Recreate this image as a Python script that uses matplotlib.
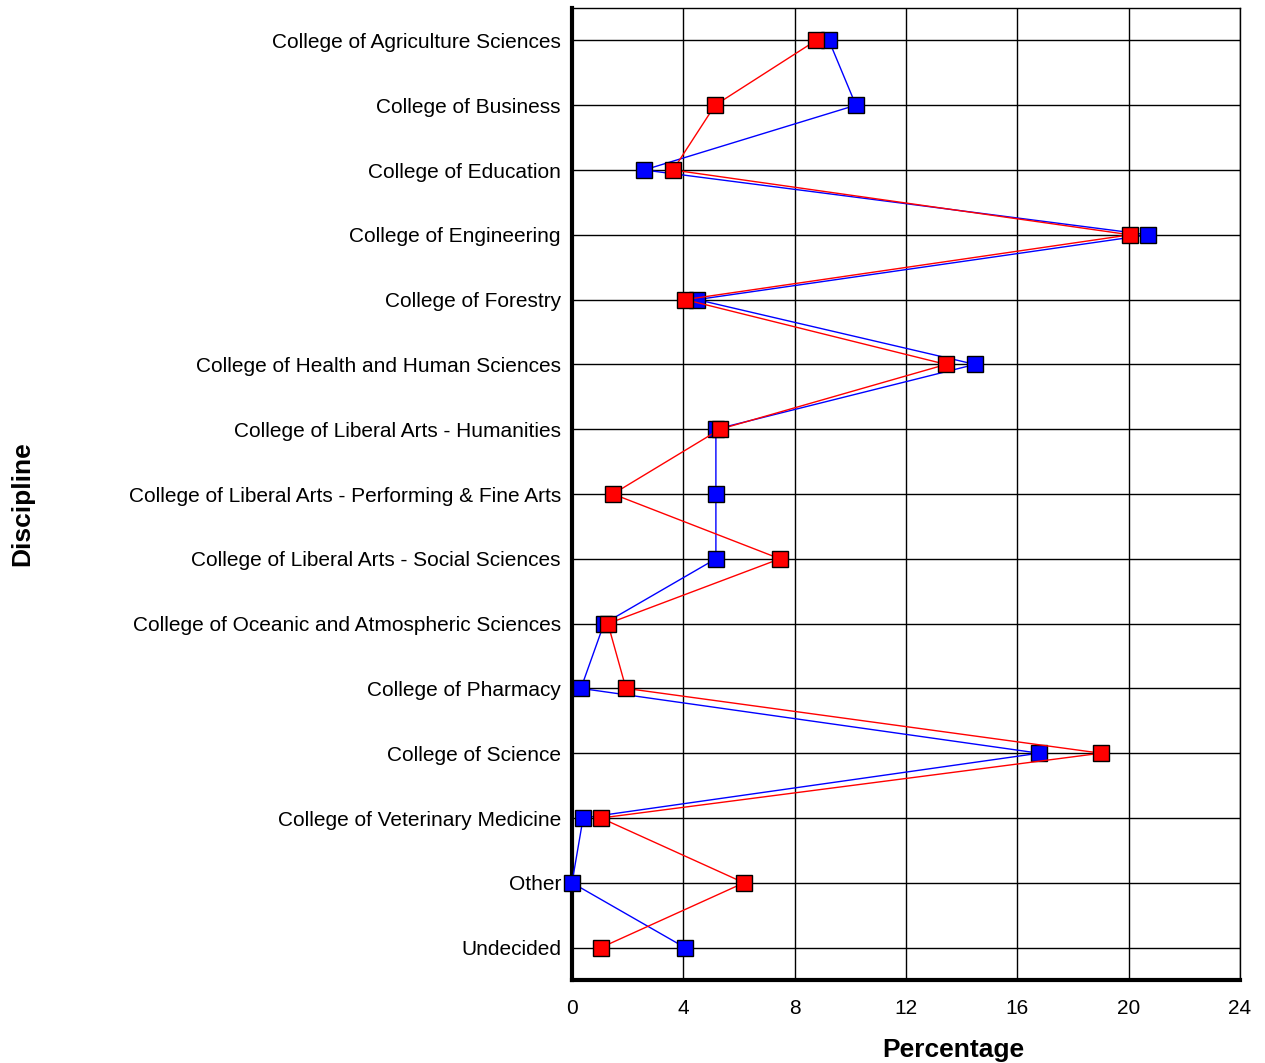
import matplotlib.pyplot as plt
import numpy

plt.rcParams['font.family'] = ['Liberation Sans', 'DejaVu Sans']

disciplines = ["College of Agriculture Sciences", "College of Business",
               "College of Education", "College of Engineering",
               "College of Forestry", "College of Health and Human Sciences",
               "College of Liberal Arts - Humanities",
               "College of Liberal Arts - Performing & Fine Arts",
               "College of Liberal Arts - Social Sciences",
               "College of Oceanic and Atmospheric Sciences",
               "College of Pharmacy", "College of Science",
               "College of Veterinary Medicine", "Other", "Undecided"]

# series bleue
bleu = [9.23, 10.2, 2.59, 20.7, 4.49, 14.48, 5.17, 5.17, 5.17, 1.15, 0.32, 16.78, 0.4, 0.0, 4.06]
# series rouge
rouge = [8.77, 5.14, 3.63, 20.05, 4.06, 13.44, 5.32, 1.47, 7.47, 1.29, 1.94, 19.0, 1.04, 6.18, 1.04]

x_ticks = [0, 4, 8, 12, 16, 20, 24]

fig = plt.figure(figsize=(12.65, 10.63), dpi=100)
ax = fig.add_axes([572/1265, 1-980/1063, 668/1265, 972/1063])

pos = numpy.arange(len(disciplines))
ax.plot(bleu, pos, color='#0000ff', lw=1, marker='s', markersize=11.5,
        markerfacecolor='#0000ff', markeredgecolor='black', markeredgewidth=1, zorder=3, clip_on=False)
ax.plot(rouge, pos, color='#ff0000', lw=1, marker='s', markersize=11.5,
        markerfacecolor='#ff0000', markeredgecolor='black', markeredgewidth=1, zorder=4, clip_on=False)

ax.set_xlim(0, 24)
ax.set_ylim(len(disciplines)-0.5, -0.5)
ax.set_xticks(x_ticks)
ax.set_xticklabels([str(t) for t in x_ticks], fontsize=15)
ax.set_yticks(pos)
ax.set_yticklabels(disciplines, fontsize=15)
ax.tick_params(axis='x', length=0, pad=14)
ax.tick_params(axis='y', length=0, pad=8)
ax.grid(True, color='black', lw=1)
ax.set_axisbelow(True)

for s in ['top', 'right']:
    ax.spines[s].set_linewidth(1)
for s in ['left', 'bottom']:
    ax.spines[s].set_linewidth(3)

ax.set_xlabel('Percentage', fontsize=19, fontweight='bold')
ax.xaxis.set_label_coords((953-572)/668, -(1038-980)/972)
ax.set_ylabel('Discipline', fontsize=19, fontweight='bold')
ax.yaxis.set_label_coords(-(572-34)/668, 1-(504-8)/972)

plt.savefig("out.png", dpi=100)
plt.close()
